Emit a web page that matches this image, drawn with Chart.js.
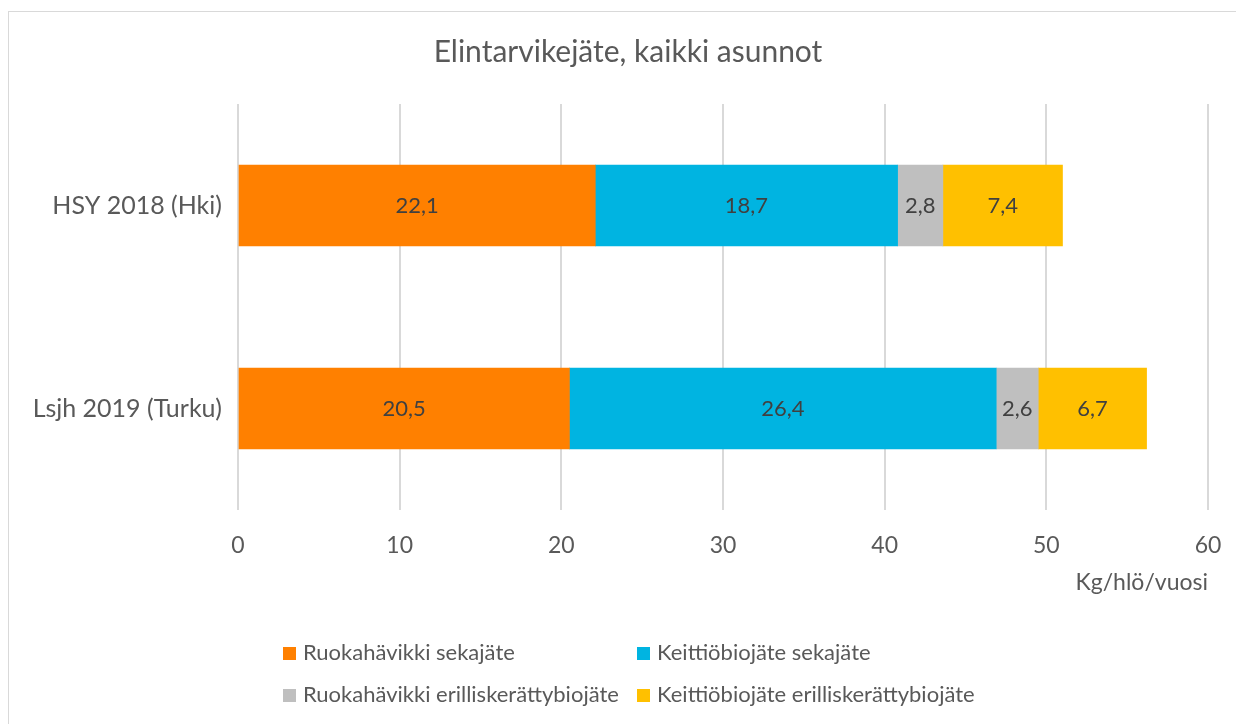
<!DOCTYPE html>
<html>
<head>
<meta charset="utf-8">
<script src="https://cdn.jsdelivr.net/npm/chart.js@4"></script>
<style>
  body { margin: 0; background: #fff; font-family: Lato, sans-serif; }
  #wrap { position: relative; width: 1236px; height: 724px; overflow: hidden; }
  #frame { position: absolute; left: 8px; top: 11px; width: 1300px; height: 800px; border: 1px solid #d9d9d9; box-sizing: border-box; }
  canvas { position: absolute; left: 0; top: 0; }
  .leg { position: absolute; font-size: 22px; color: #595959; white-space: nowrap; line-height: 22px; }
  .leg span.box { display: inline-block; width: 13px; height: 13px; margin-right: 7px; vertical-align: 0px; }
</style>
</head>
<body>
<div id="wrap">
  <div id="frame"></div>
  <canvas id="myChart" width="1236" height="724"></canvas>
  <div id="legend"></div>
</div>
<script>
var chart_title = 'Elintarvikejäte, kaikki asunnot';
var categories = ['HSY 2018 (Hki)', 'Lsjh 2019 (Turku)'];
var series_names = ['Ruokahävikki sekajäte', 'Keittiöbiojäte sekajäte', 'Ruokahävikki erilliskerättybiojäte', 'Keittiöbiojäte erilliskerättybiojäte'];
var ruoka_seka = [22.1, 20.5];
var keittio_seka = [18.7, 26.4];
var ruoka_bio = [2.8, 2.6];
var keittio_bio = [7.4, 6.7];
var series_colors = ['#ff8000', '#00b4e1', '#bfbfbf', '#ffc000'];
var x_ticks = [0, 10, 20, 30, 40, 50, 60];

var all_values = [ruoka_seka, keittio_seka, ruoka_bio, keittio_bio];

// legend in two rows, like the original
var legend_pos = [[283, 641], [637, 641], [283, 683], [637, 683]];
var legend = document.getElementById('legend');
series_names.forEach(function (name, i) {
    var d = document.createElement('div');
    d.className = 'leg';
    d.style.left = legend_pos[i][0] + 'px';
    d.style.top = legend_pos[i][1] + 'px';
    d.innerHTML = '<span class="box" style="background:' + series_colors[i] + '"></span>' + name;
    legend.appendChild(d);
});

// value labels in the middle of each bar piece, with decimal comma
var barLabels = {
    id: 'barLabels',
    afterDatasetsDraw: function (chart) {
        var ctx = chart.ctx;
        ctx.save();
        ctx.font = '22px Lato';
        ctx.fillStyle = '#404040';
        ctx.textAlign = 'center';
        ctx.textBaseline = 'middle';
        chart.data.datasets.forEach(function (ds, i) {
            chart.getDatasetMeta(i).data.forEach(function (bar, j) {
                var cx = (bar.x + bar.base) / 2;
                ctx.fillText(ds.data[j].toFixed(1).replace('.', ','), cx, bar.y);
            });
        });
        ctx.restore();
    }
};

// title centred over the frame, not the canvas
var titleDraw = {
    id: 'titleDraw',
    afterDraw: function (chart) {
        var ctx = chart.ctx;
        ctx.save();
        ctx.font = '30px Lato';
        ctx.fillStyle = '#595959';
        ctx.textAlign = 'center';
        ctx.textBaseline = 'middle';
        ctx.fillText(chart_title, 628, 52);
        ctx.restore();
    }
};

var ctx = document.getElementById('myChart').getContext('2d');
var myChart = new Chart(ctx, {
    type: 'bar',
    data: {
        labels: categories,
        datasets: series_names.map(function (name, i) {
            return {
                label: name,
                data: all_values[i],
                backgroundColor: series_colors[i],
                borderWidth: 0,
                barThickness: 81
            };
        })
    },
    options: {
        indexAxis: 'y',
        responsive: false,
        animation: false,
        layout: { padding: { left: 0, right: 28, top: 104, bottom: 124 } },
        plugins: {
            legend: { display: false },
            tooltip: { enabled: false },
            title: { display: false }
        },
        scales: {
            x: {
                stacked: true,
                min: 0,
                max: 60,
                afterBuildTicks: function (axis) {
                    axis.ticks = x_ticks.map(function (v) { return { value: v }; });
                },
                afterFit: function (axis) {
                    axis.height = 90;
                    axis.paddingLeft = 0;
                    axis.paddingRight = 0;
                },
                grid: { color: '#d9d9d9', lineWidth: 2, drawTicks: false },
                border: { display: false },
                ticks: { color: '#595959', font: { family: 'Lato', size: 23 }, padding: 22, maxRotation: 0 },
                title: {
                    display: true,
                    text: 'Kg/hlö/vuosi',
                    align: 'end',
                    color: '#595959',
                    font: { family: 'Lato', size: 23 },
                    padding: { top: 13 }
                }
            },
            y: {
                stacked: true,
                afterFit: function (axis) { axis.width = 238; },
                grid: { display: false },
                border: { display: false },
                ticks: { color: '#595959', font: { family: 'Lato', size: 25 }, padding: 8 }
            }
        }
    },
    plugins: [barLabels, titleDraw]
});
</script>
</body>
</html>
